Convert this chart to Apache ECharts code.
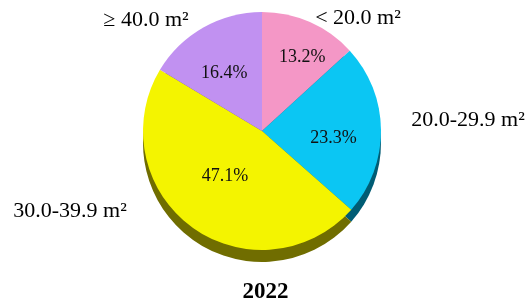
<!DOCTYPE html>
<html>
<head>
<meta charset="utf-8">
<script src="https://cdn.jsdelivr.net/npm/echarts@6/dist/echarts.min.js"></script>
<style>
  html, body { margin: 0; padding: 0; background: #fff; }
  #main { width: 531px; height: 302px; }
</style>
</head>
<body>
<div id="main"></div>
<script>
const categories = ['< 20.0 m²', '20.0-29.9 m²', '30.0-39.9 m²', '≥ 40.0 m²'];
const shares = [13.2, 23.3, 47.1, 16.4];
const yearLabel = '2022';

const faceColors = ['#f497c6', '#0bc6f3', '#f4f400', '#c191f1'];
const sideColors = ['#7a4a63', '#005c74', '#706d00', '#5e4778'];

// nudges for the percentage labels, and spots for the category names
const innerShift = [[15, -17], [9, 8], [0, -5], [-7, -3]];
const outerSpot = [[358, 18], [468, 120], [70, 211], [146, 20]];

var chartDom = document.getElementById('main');
var myChart = echarts.init(chartDom);
var option;

const font = 'Liberation Serif, Times New Roman, serif';

option = {
  animation: false,
  title: {
    text: yearLabel,
    left: 'center',
    top: 276,
    textStyle: {
      fontFamily: font,
      fontSize: 23,
      fontWeight: 'bold',
      color: '#000'
    }
  },
  series: [
    {
      // darker copy pushed down, gives the pie its edge
      type: 'pie',
      center: [262, 143],
      radius: 119,
      startAngle: 90,
      silent: true,
      data: categories.map((name, i) => ({
        name: name,
        value: shares[i],
        itemStyle: { color: sideColors[i] }
      })),
      label: {
        show: true,
        position: 'outside',
        formatter: '{b}',
        fontFamily: font,
        fontSize: 22,
        color: '#000',
        overflow: 'none'
      },
      labelLine: { show: false },
      labelLayout: function (params) {
        const p = outerSpot[params.dataIndex];
        return { x: p[0], y: p[1], align: 'center', verticalAlign: 'middle' };
      }
    },
    {
      type: 'pie',
      center: [262, 131],
      radius: 119,
      startAngle: 90,
      silent: true,
      data: categories.map((name, i) => ({
        name: name,
        value: shares[i],
        itemStyle: { color: faceColors[i] }
      })),
      label: {
        show: true,
        position: 'inside',
        formatter: function (p) {
          return p.value.toFixed(1) + '%';
        },
        fontFamily: font,
        fontSize: 18,
        color: '#111'
      },
      labelLine: { show: false },
      labelLayout: function (params) {
        const s = innerShift[params.dataIndex];
        return { dx: s[0], dy: s[1] };
      }
    }
  ]
};

option && myChart.setOption(option);
</script>
</body>
</html>
